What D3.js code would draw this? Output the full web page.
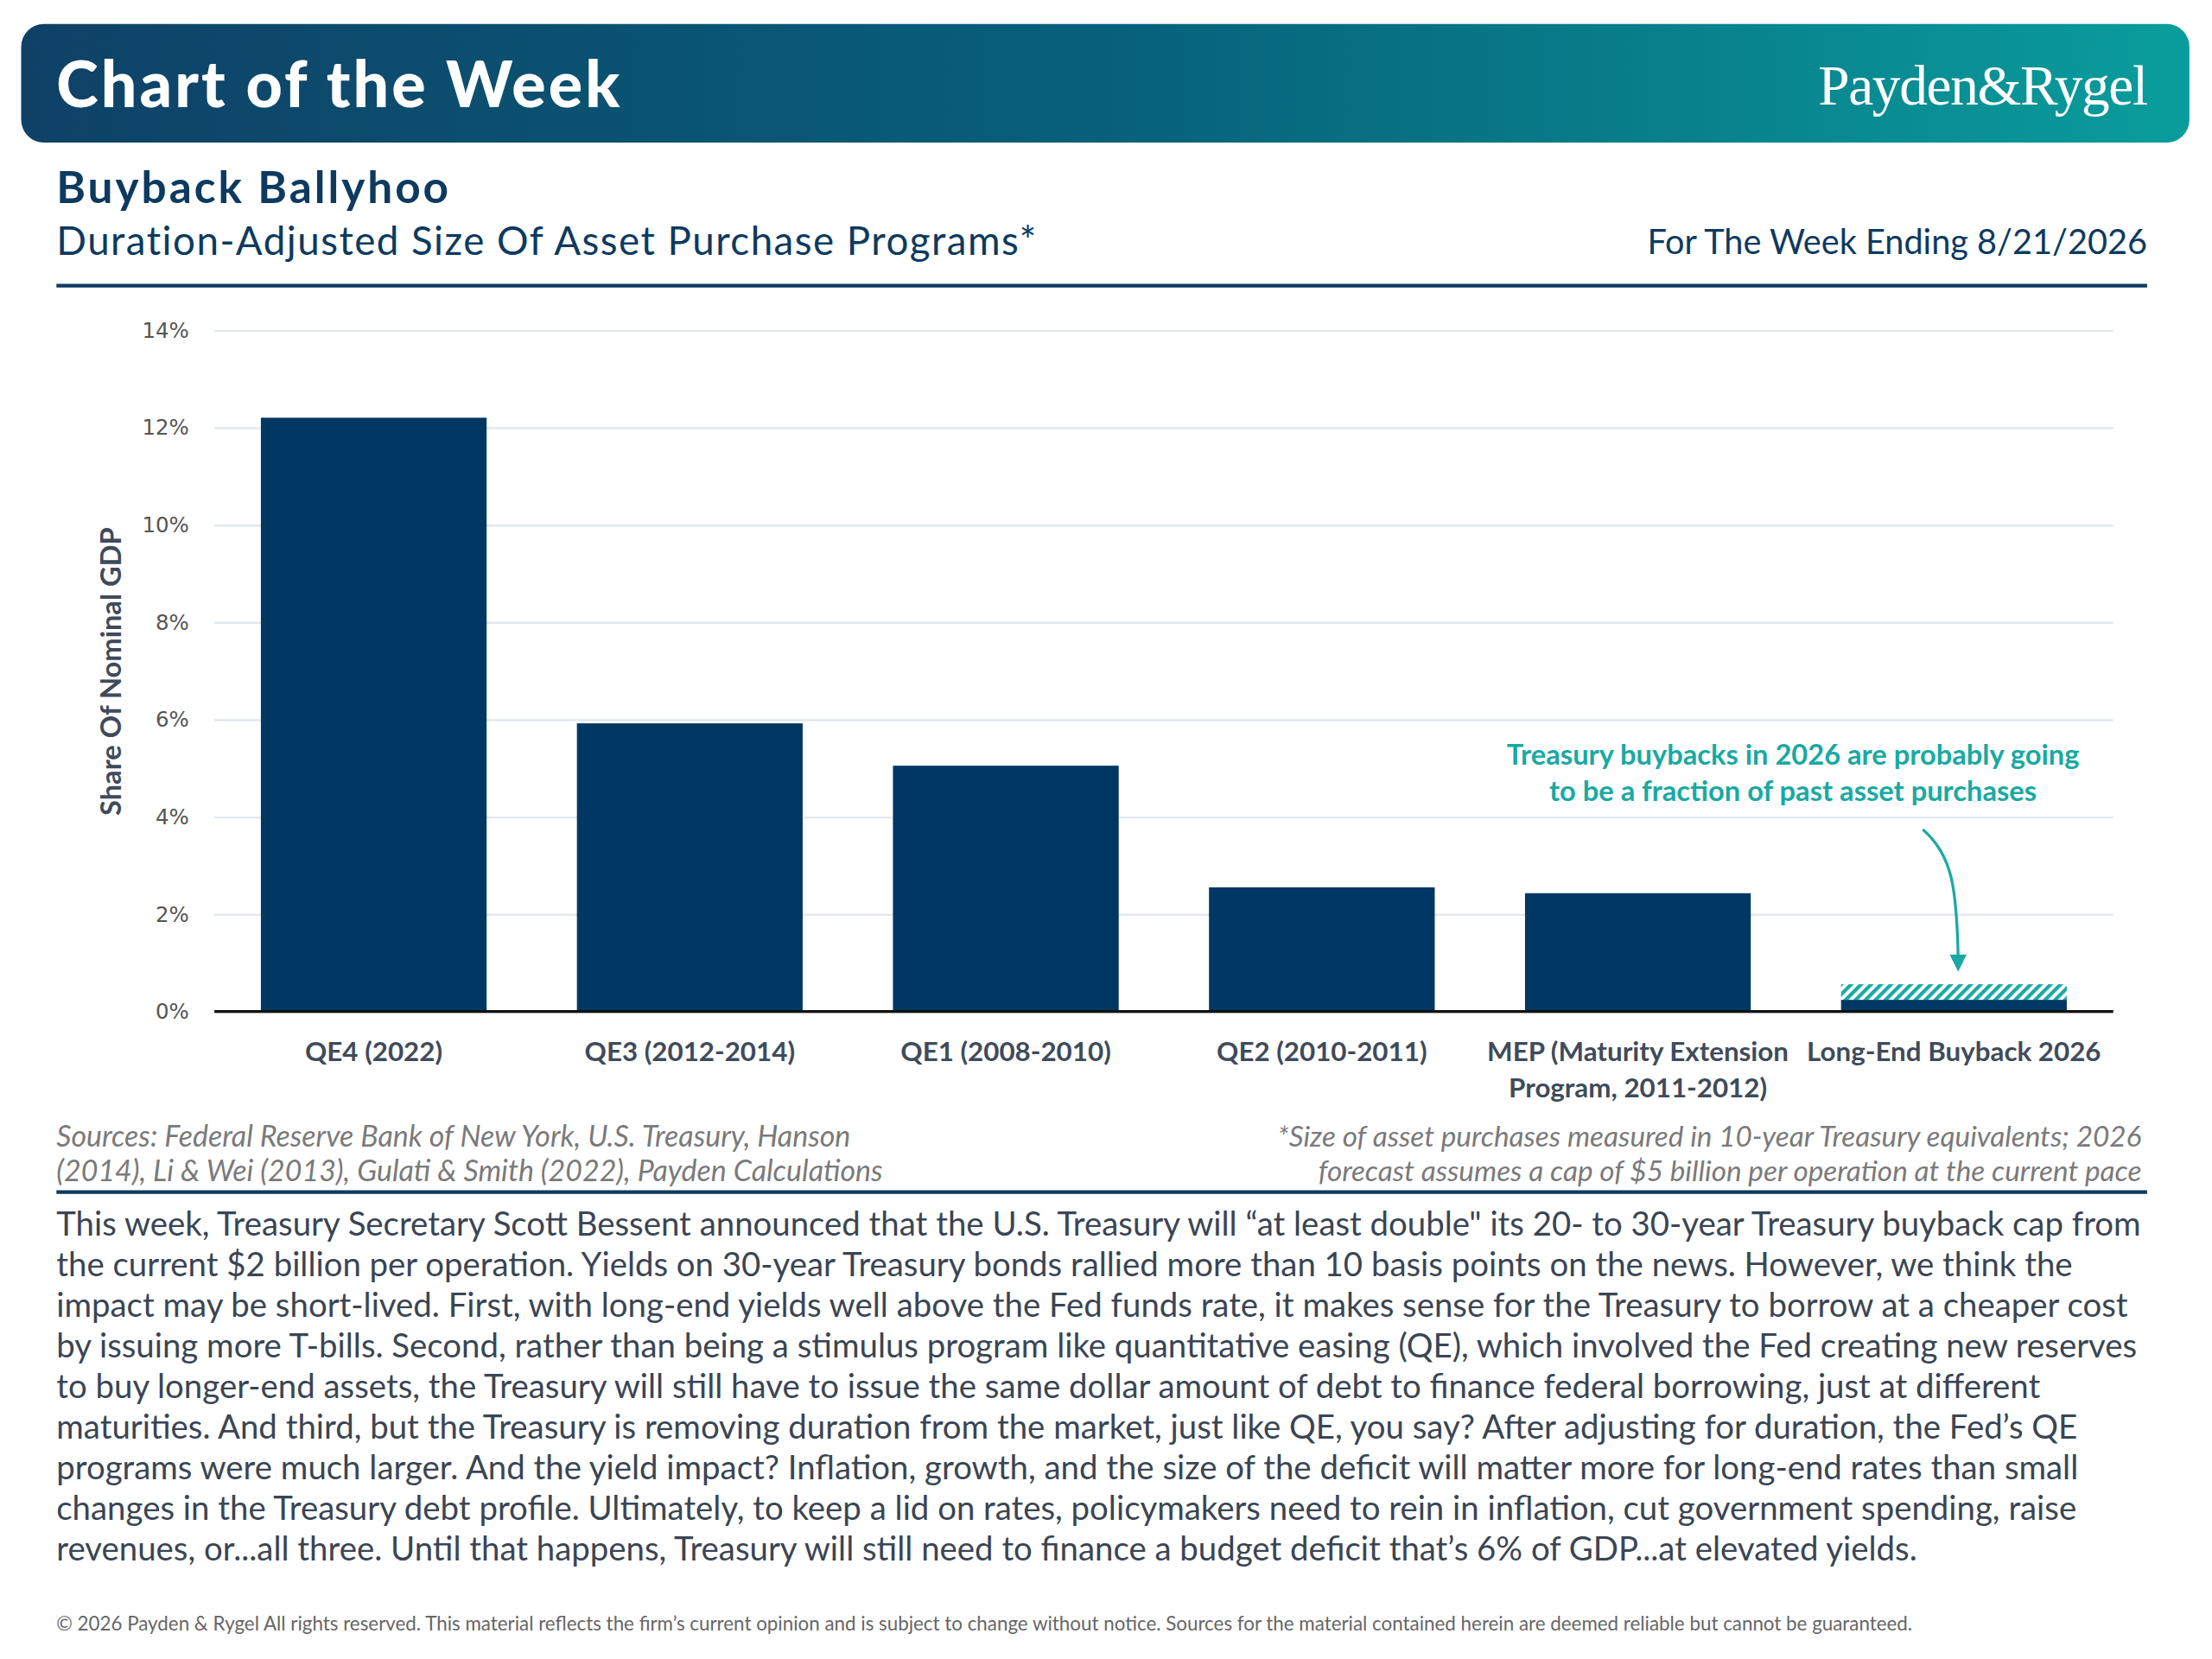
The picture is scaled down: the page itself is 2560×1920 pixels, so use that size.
<!DOCTYPE html>
<html>
<head>
<meta charset="utf-8">
<script src="https://cdn.jsdelivr.net/npm/d3@7"></script>
<style>
  body { margin: 0; background: #fff; }
  svg { display: block; }
</style>
</head>
<body>
<div id="chart"></div>
<script>
// chart values
const categories = ['QE4 (2022)', 'QE3 (2012-2014)', 'QE1 (2008-2010)', 'QE2 (2010-2011)',
  'MEP (Maturity Extension|Program, 2011-2012)', 'Long-End Buyback 2026'];
const baseValues = [12.2, 5.92, 5.05, 2.55, 2.43, 0.24];
const forecastValues = [0, 0, 0, 0, 0, 0.32];
const yTicks = [0, 2, 4, 6, 8, 10, 12, 14];

const bodyLines = [
  'This week, Treasury Secretary Scott Bessent announced that the U.S. Treasury will \u201cat least double" its 20- to 30-year Treasury buyback cap from',
  'the current $2 billion per operation. Yields on 30-year Treasury bonds rallied more than 10 basis points on the news. However, we think the',
  'impact may be short-lived. First, with long-end yields well above the Fed funds rate, it makes sense for the Treasury to borrow at a cheaper cost',
  'by issuing more T-bills. Second, rather than being a stimulus program like quantitative easing (QE), which involved the Fed creating new reserves',
  'to buy longer-end assets, the Treasury will still have to issue the same dollar amount of debt to finance federal borrowing, just at different',
  'maturities. And third, but the Treasury is removing duration from the market, just like QE, you say? After adjusting for duration, the Fed\u2019s QE',
  'programs were much larger. And the yield impact? Inflation, growth, and the size of the deficit will matter more for long-end rates than small',
  'changes in the Treasury debt profile. Ultimately, to keep a lid on rates, policymakers need to rein in inflation, cut government spending, raise',
  'revenues, or...all three. Until that happens, Treasury will still need to finance a budget deficit that\u2019s 6% of GDP...at elevated yields.'
];
const sourceLines = ['Sources: Federal Reserve Bank of New York, U.S. Treasury, Hanson',
  '(2014), Li & Wei (2013), Gulati & Smith (2022), Payden Calculations'];
const noteLines = ['*Size of asset purchases measured in 10-year Treasury equivalents; 2026',
  'forecast assumes a cap of $5 billion per operation at the current pace'];
const calloutLines = ['Treasury buybacks in 2026 are probably going', 'to be a fraction of past asset purchases'];

const navy = '#003763';
const teal = '#1aa9a3';
const ink = '#0d3a5f';
const font = 'Lato, "Noto Sans", sans-serif';

const W = 1568, H = 1176;
const svg = d3.select('#chart').append('svg')
  .attr('width', 2560).attr('height', 1920)
  .attr('viewBox', `0 0 ${W} ${H}`);

const defs = svg.append('defs');
const grad = defs.append('linearGradient').attr('id', 'hdr').attr('x1', 0).attr('x2', 1).attr('y1', 0).attr('y2', 0);
grad.append('stop').attr('offset', '0%').attr('stop-color', '#0f4167');
grad.append('stop').attr('offset', '50%').attr('stop-color', '#07607a');
grad.append('stop').attr('offset', '100%').attr('stop-color', '#0a9d9c');

const hatch = defs.append('pattern').attr('id', 'hatch')
  .attr('patternUnits', 'userSpaceOnUse').attr('width', 5).attr('height', 5)
  .attr('patternTransform', 'rotate(45)');
hatch.append('rect').attr('width', 5).attr('height', 5).attr('fill', '#fff');
hatch.append('rect').attr('width', 2.6).attr('height', 5).attr('fill', teal);

// header banner
svg.append('rect').attr('x', 15).attr('y', 17).attr('width', 1537).attr('height', 84)
  .attr('rx', 16).attr('fill', 'url(#hdr)');
svg.append('text').attr('x', 40).attr('y', 76)
  .attr('font-family', font).attr('font-weight', 900).attr('font-size', 45)
  .attr('letter-spacing', 1.9).attr('fill', '#fff').text('Chart of the Week');
svg.append('text').attr('x', 1522).attr('y', 74).attr('text-anchor', 'end')
  .attr('font-family', '"Liberation Serif", "DejaVu Serif", serif').attr('font-size', 40)
  .attr('letter-spacing', -0.8).attr('fill', '#fff').text('Payden&Rygel');

// titles
svg.append('text').attr('x', 40).attr('y', 144)
  .attr('font-family', font).attr('font-weight', 700).attr('font-size', 31.5)
  .attr('letter-spacing', 1.8).attr('fill', ink).text('Buyback Ballyhoo');
svg.append('text').attr('x', 40).attr('y', 181)
  .attr('font-family', font).attr('font-size', 28).attr('letter-spacing', 0.9).attr('fill', ink)
  .text('Duration-Adjusted Size Of Asset Purchase Programs*');
svg.append('text').attr('x', 1522).attr('y', 180).attr('text-anchor', 'end')
  .attr('font-family', font).attr('font-size', 24.3).attr('fill', ink)
  .text('For The Week Ending 8/21/2026');
svg.append('line').attr('x1', 40).attr('x2', 1522).attr('y1', 202.5).attr('y2', 202.5)
  .attr('stroke', ink).attr('stroke-width', 2.5);

// chart
const x = d3.scaleBand().domain(categories).range([152, 1498])
  .paddingInner(0.2857).paddingOuter(0.147);
const y = d3.scaleLinear().domain([0, 14]).range([717, 234]);

const yAxis = svg.append('g').attr('transform', 'translate(152,0)')
  .call(d3.axisLeft(y).tickValues(yTicks).tickFormat(d => d + '%')
    .tickSize(-(1498 - 152)).tickPadding(18));
yAxis.select('.domain').remove();
yAxis.selectAll('.tick line').attr('stroke', '#e2e8ed').attr('stroke-width', 1.5);
yAxis.selectAll('.tick text').attr('font-family', '"DejaVu Sans", Verdana, sans-serif')
  .attr('font-size', 15).attr('fill', '#555');

svg.append('text')
  .attr('transform', 'translate(86,476) rotate(-90)').attr('text-anchor', 'middle')
  .attr('font-family', font).attr('font-weight', 700).attr('font-size', 20)
  .attr('fill', '#3f4b5b').text('Share Of Nominal GDP');

svg.append('g').selectAll('rect.base').data(categories).join('rect')
  .attr('class', 'base')
  .attr('x', d => x(d)).attr('width', x.bandwidth())
  .attr('y', (d, i) => y(baseValues[i]))
  .attr('height', (d, i) => y(0) - y(baseValues[i]))
  .attr('fill', navy);

svg.append('g').selectAll('rect.fc').data(categories.filter((d, i) => forecastValues[i] > 0)).join('rect')
  .attr('class', 'fc')
  .attr('x', d => x(d)).attr('width', x.bandwidth())
  .attr('y', d => { const i = categories.indexOf(d); return y(baseValues[i] + forecastValues[i]); })
  .attr('height', d => { const i = categories.indexOf(d); return y(baseValues[i]) - y(baseValues[i] + forecastValues[i]); })
  .attr('fill', 'url(#hatch)');

svg.append('line').attr('x1', 152).attr('x2', 1498).attr('y1', y(0)).attr('y2', y(0))
  .attr('stroke', '#111').attr('stroke-width', 2);

const xl = svg.append('g').selectAll('text').data(categories).join('text')
  .attr('text-anchor', 'middle')
  .attr('font-family', font).attr('font-weight', 700).attr('font-size', 19.2)
  .attr('fill', '#3f4b5b');
xl.each(function (d) {
  const parts = d.split('|');
  const cx = x(d) + x.bandwidth() / 2;
  parts.forEach((p, k) => {
    d3.select(this).append('tspan').attr('x', cx).attr('y', 752 + k * 26).text(p);
  });
});

// callout
const last = categories[categories.length - 1];
const arrowX = x(last) + x.bandwidth() / 2 + 3;
svg.append('g').selectAll('text').data(calloutLines).join('text')
  .attr('x', 1271).attr('y', (d, i) => 542 + i * 26).attr('text-anchor', 'middle')
  .attr('font-family', font).attr('font-weight', 700).attr('font-size', 20)
  .attr('fill', teal).text(d => d);
const tipY = y(baseValues[5] + forecastValues[5]) - 9;
svg.append('path')
  .attr('d', `M1363,588 C1384,606 ${arrowX - 1},630 ${arrowX},${tipY - 10}`)
  .attr('fill', 'none').attr('stroke', teal).attr('stroke-width', 2);
svg.append('path')
  .attr('d', `M${arrowX - 6},${tipY - 12} L${arrowX + 6},${tipY - 12} L${arrowX},${tipY} Z`)
  .attr('fill', teal);

// sources and notes
svg.append('g').selectAll('text').data(sourceLines).join('text')
  .attr('x', 40).attr('y', (d, i) => 813 + i * 24)
  .attr('font-family', font).attr('font-style', 'italic').attr('font-size', 20.8)
  .attr('fill', '#7a7a7a').text(d => d);
svg.append('g').selectAll('text').data(noteLines).join('text')
  .attr('x', 1518).attr('y', (d, i) => 813 + i * 24).attr('text-anchor', 'end')
  .attr('font-family', font).attr('font-style', 'italic').attr('font-size', 20.4)
  .attr('fill', '#7a7a7a').text(d => d);
svg.append('line').attr('x1', 40).attr('x2', 1522).attr('y1', 845).attr('y2', 845)
  .attr('stroke', ink).attr('stroke-width', 2.5);

// commentary
svg.append('g').selectAll('text').data(bodyLines).join('text')
  .attr('x', 40).attr('y', (d, i) => 876 + i * 28.8)
  .attr('font-family', font).attr('font-size', 23.5)
  .attr('fill', '#3a4554').text(d => d);

svg.append('text').attr('x', 40).attr('y', 1156)
  .attr('font-family', font).attr('font-size', 13.7).attr('fill', '#666')
  .text('\u00a9 2026 Payden & Rygel All rights reserved. This material reflects the firm\u2019s current opinion and is subject to change without notice. Sources for the material contained herein are deemed reliable but cannot be guaranteed.');
</script>
</body>
</html>
